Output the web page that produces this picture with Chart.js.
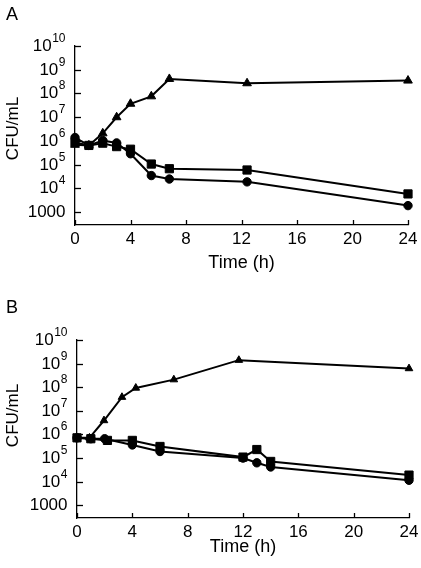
<!DOCTYPE html>
<html><head><meta charset="utf-8">
<script src="https://cdn.jsdelivr.net/npm/chart.js@4.4.1/dist/chart.umd.min.js"></script>
<style>
html,body{margin:0;padding:0;background:#fff;width:421px;height:568px;overflow:hidden}
canvas{position:absolute;left:0}
</style></head><body>
<canvas id="cA" width="421" height="284" style="top:0px"></canvas>
<canvas id="cB" width="421" height="284" style="top:284px"></canvas>
<script>
// ---- tick labels ----
const xTickValues = [0, 4, 8, 12, 16, 20, 24];
const yTickValues = [1e3, 1e4, 1e5, 1e6, 1e7, 1e8, 1e9, 1e10];
const yTickBase   = ['1000', '10', '10', '10', '10', '10', '10', '10'];
const yTickExp    = ['', '4', '5', '6', '7', '8', '9', '10'];
const xTitle = 'Time (h)';
const yTitle = 'CFU/mL';

// ---- Panel A ----
const timesA = [0, 1, 2, 3, 4, 5.5, 6.8, 12.4, 24];
const triangleA = [6.9e5, 6.5e5, 2.1e6, 1.0e7, 3.7e7, 7.6e7, 4.1e8, 2.7e8, 3.5e8];
const squareA   = [8.7e5, 6.5e5, 8.1e5, 5.8e5, 4.5e5, 1.07e5, 6.8e4, 6.0e4, 5.9e3];
const circleA   = [1.4e6, 6.5e5, 1.05e6, 8.3e5, 2.9e5, 3.5e4, 2.5e4, 1.9e4, 1.9e3];

// ---- Panel B ----
const timesBTri = [0, 0.9, 1.95, 3.25, 4.25, 7, 11.7, 24];
const triangleB = [7.2e5, 7.2e5, 3.9e6, 3.8e7, 9.3e7, 2.1e8, 1.4e9, 6.2e8];
const timesBSq  = [0, 1, 2.2, 4, 6, 12, 13, 14, 24];
const squareB   = [7.2e5, 6.6e5, 5.6e5, 5.6e5, 3.1e5, 1.1e5, 2.3e5, 7.2e4, 1.9e4];
const timesBCi  = [0, 1, 2, 4, 6, 12, 13, 14, 24];
const circleB   = [7.2e5, 6.6e5, 6.6e5, 3.6e5, 1.9e5, 1.0e5, 6.3e4, 4.2e4, 1.15e4];

const FONT = '"Liberation Sans", Arial, sans-serif';
const pts = (xs, ys) => xs.map((x, i) => ({x: x, y: ys[i]}));

function ds(data, style, radius) {
  return {
    data: data, borderColor: '#000', backgroundColor: '#000', borderWidth: 2,
    pointStyle: style, pointRadius: radius, pointBackgroundColor: '#000',
    pointBorderColor: '#000', pointBorderWidth: 1, tension: 0, clip: false
  };
}

const axisDeco = {
  id: 'axisDeco',
  afterDraw(chart, args, opts) {
    const ctx = chart.ctx, ca = chart.chartArea, x = chart.scales.x, y = chart.scales.y;
    ctx.save();
    ctx.strokeStyle = '#000'; ctx.fillStyle = '#000'; ctx.lineWidth = 1.3;
    yTickValues.forEach((v, i) => {
      const py = Math.round(y.getPixelForValue(v)) + 0.5;
      ctx.beginPath(); ctx.moveTo(ca.left, py); ctx.lineTo(ca.left + 6, py); ctx.stroke();
      const right = ca.left - 9.5;
      const exp = yTickExp[i];
      let ew = 0;
      ctx.textBaseline = 'alphabetic'; ctx.textAlign = 'right';
      if (exp) {
        ctx.font = '12px ' + FONT;
        ew = ctx.measureText(exp).width + 0.5;
        ctx.fillText(exp, right, py + 4.5 - 9.5);
      }
      ctx.font = '17px ' + FONT;
      ctx.fillText(yTickBase[i], right - ew, py + 4.5);
    });
    xTickValues.forEach(v => {
      const px = Math.round(x.getPixelForValue(v)) + 0.5;
      ctx.beginPath(); ctx.moveTo(px, ca.bottom); ctx.lineTo(px, ca.bottom - 5); ctx.stroke();
    });
    ctx.save();
    ctx.translate(opts.titleX, opts.titleY); ctx.rotate(-Math.PI / 2);
    ctx.font = '17px ' + FONT; ctx.textAlign = 'center'; ctx.textBaseline = 'middle';
    ctx.fillText(yTitle, 0, 0);
    ctx.restore();
    ctx.font = '18px ' + FONT; ctx.textAlign = 'left'; ctx.textBaseline = 'alphabetic';
    ctx.fillText(opts.panel, 6, opts.panelY);
    ctx.restore();
  }
};

function makeChart(id, datasets, cfg) {
  return new Chart(document.getElementById(id), {
    type: 'line',
    data: {datasets: datasets},
    plugins: [axisDeco],
    options: {
      responsive: false, animation: false, devicePixelRatio: 1,
      layout: {padding: {top: cfg.top, right: cfg.right, left: 0, bottom: 0}},
      plugins: {legend: {display: false}, tooltip: {enabled: false},
        axisDeco: {titleX: 13.5, titleY: cfg.titleY, panel: cfg.panel, panelY: cfg.panelY}},
      scales: {
        x: {
          type: 'linear', min: 0, max: 24,
          afterBuildTicks: s => { s.ticks = xTickValues.map(v => ({value: v})); },
          afterFit: s => { s.height = cfg.xh; },
          grid: {display: false},
          border: {display: true, color: '#000', width: 1.3},
          ticks: {color: '#000', font: {family: FONT, size: 17}, padding: -4, maxRotation: 0, autoSkip: false},
          title: {display: true, text: xTitle, color: '#000', font: {family: FONT, size: 18}, padding: {top: 0, bottom: 10}}
        },
        y: {
          type: 'logarithmic', min: 290, max: 1e10,
          afterFit: s => { s.width = cfg.yw; },
          grid: {display: false},
          border: {display: true, color: '#000', width: 1.3},
          ticks: {display: false}
        }
      }
    }
  });
}

makeChart('cA', [
  ds(pts(timesA, triangleA), 'triangle', 5),
  ds(pts(timesA, squareA), 'rect', 5.8),
  ds(pts(timesA, circleA), 'circle', 4.2)
], {top: 46, right: 13, xh: 59, yw: 75, titleY: 128.5, panel: 'A', panelY: 20});

makeChart('cB', [
  ds(pts(timesBTri, triangleB), 'triangle', 4.4),
  ds(pts(timesBSq, squareB), 'rect', 5.8),
  ds(pts(timesBCi, circleB), 'circle', 4.2)
], {top: 56, right: 12, xh: 50, yw: 77, titleY: 131.5, panel: 'B', panelY: 29});
</script>
</body></html>
